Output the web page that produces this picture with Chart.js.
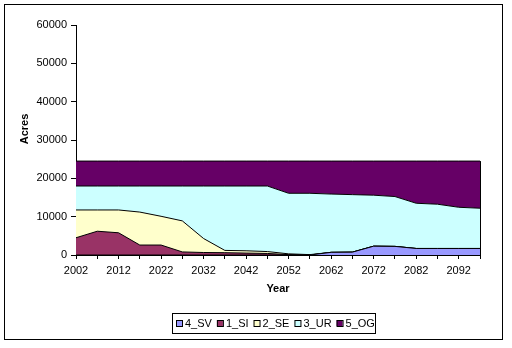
<!DOCTYPE html>
<html lang="en">
<head>
  <meta charset="UTF-8">
  <title>Acres by Year</title>
  <script src="https://cdn.jsdelivr.net/npm/chart.js"></script>
  <style>
    body { margin: 0; background: #ffffff; }
    #wrap { width: 512px; height: 348px; }
  </style>
</head>
<body>
  <div id="wrap"><canvas id="acresChart" width="512" height="348"></canvas></div>
  <script>
    // acres per class, every 5 years
    const years = ['2002', '2007', '2012', '2017', '2022', '2027', '2032', '2037', '2042', '2047',
                   '2052', '2057', '2062', '2067', '2072', '2077', '2082', '2087', '2092', '2097'];
    const sv = [0, 0, 0, 0, 0, 0, 0, 0, 0, 0, 0, 0, 700, 750, 2300, 2250, 1700, 1700, 1700, 1700];
    const si = [4500, 6200, 5800, 2600, 2600, 800, 650, 600, 500, 400, 100, 0, 0, 0, 0, 0, 0, 0, 0, 0];
    const se = [7250, 5550, 5950, 8600, 7500, 8100, 3650, 600, 600, 500, 200, 100, 0, 0, 0, 0, 0, 0, 0, 0];
    const ur = [6250, 6250, 6250, 6800, 7900, 9100, 13700, 16800, 16900, 17100,
                15800, 16000, 15200, 15000, 13300, 13000, 11800, 11550, 10750, 10500];
    const og = [6500, 6500, 6500, 6500, 6500, 6500, 6500, 6500, 6500, 6500,
                8400, 8400, 8600, 8750, 8900, 9250, 11000, 11250, 12050, 12300];
    const yTicks = [0, 10000, 20000, 30000, 40000, 50000, 60000];

    const seriesNames = ['4_SV', '1_SI', '2_SE', '3_UR', '5_OG'];
    const seriesColors = ['#9999FF', '#993366', '#FFFFCC', '#CCFFFF', '#660066'];
    const seriesData = [sv, si, se, ur, og];

    const FONT = "'Liberation Sans', Arial, sans-serif";
    Chart.defaults.font.family = FONT;
    Chart.defaults.font.size = 11;
    Chart.defaults.color = '#000000';

    // frame, axis titles, legend and the closing edge of the areas
    const extras = {
      id: 'extras',
      afterDraw(chart) {
        const ctx = chart.ctx;
        const xs = chart.scales.x, ys = chart.scales.y;
        ctx.save();
        ctx.strokeStyle = '#000000';
        ctx.lineWidth = 1;

        // right edge of the stacked areas
        const last = years.length - 1;
        const total = seriesData.reduce((s, d) => s + d[last], 0);
        const ex = Math.round(xs.getPixelForValue(last)) + 0.5;
        ctx.beginPath();
        ctx.moveTo(ex, ys.getPixelForValue(0));
        ctx.lineTo(ex, ys.getPixelForValue(total));
        ctx.stroke();

        // chart border
        ctx.strokeRect(4.5, 4.5, 498, 335);

        // axis titles
        ctx.fillStyle = '#000000';
        ctx.font = 'bold 11px ' + FONT;
        ctx.textAlign = 'center';
        ctx.textBaseline = 'middle';
        ctx.fillText('Year', (chart.chartArea.left + chart.chartArea.right) / 2, 289);
        ctx.save();
        ctx.translate(25, 129);
        ctx.rotate(-Math.PI / 2);
        ctx.fillText('Acres', 0, 0);
        ctx.restore();

        // legend
        ctx.strokeRect(172.5, 313.5, 203, 20);
        ctx.font = '11px ' + FONT;
        ctx.textAlign = 'left';
        let x = 176;
        chart.data.datasets.forEach(ds => {
          ctx.fillStyle = ds.backgroundColor;
          ctx.fillRect(x, 320, 6, 6);
          ctx.strokeRect(x + 0.5, 320.5, 6, 6);
          ctx.fillStyle = '#000000';
          ctx.fillText(ds.label, x + 9, 324);
          x += 9 + ctx.measureText(ds.label).width + 5;
        });
        ctx.restore();
      }
    };

    new Chart(document.getElementById('acresChart'), {
      type: 'line',
      data: {
        labels: years,
        datasets: seriesNames.map((name, i) => ({
          label: name,
          data: seriesData[i],
          backgroundColor: seriesColors[i],
          borderColor: '#000000',
          borderWidth: 1,
          pointRadius: 0,
          tension: 0,
          fill: i === 0 ? 'origin' : '-1'
        }))
      },
      options: {
        responsive: false,
        animation: false,
        devicePixelRatio: 1,
        layout: { padding: { left: 0, right: 32, top: 25, bottom: 0 } },
        plugins: {
          legend: { display: false },
          tooltip: { enabled: false },
          filler: { propagate: false }
        },
        scales: {
          x: {
            offset: false,
            afterFit(scale) { scale.height = 93; },
            grid: { drawOnChartArea: false, tickLength: 4, tickColor: '#000000' },
            border: { display: true, color: '#000000', width: 1 },
            ticks: {
              autoSkip: false,
              maxRotation: 0,
              padding: 5,
              callback: (v, i) => (i % 2 === 0 ? years[i] : '')
            }
          },
          y: {
            stacked: true,
            min: yTicks[0],
            max: yTicks[yTicks.length - 1],
            afterFit(scale) { scale.width = 76; },
            afterBuildTicks(scale) { scale.ticks = yTicks.map(v => ({ value: v })); },
            grid: { drawOnChartArea: false, tickLength: 5, tickColor: '#000000' },
            border: { display: true, color: '#000000', width: 1 },
            ticks: { padding: 4, callback: v => String(v) }
          }
        }
      },
      plugins: [extras]
    });
  </script>
</body>
</html>
